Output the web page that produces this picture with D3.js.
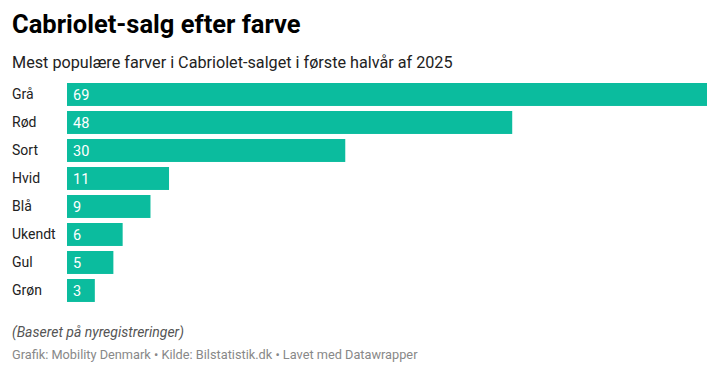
<!DOCTYPE html>
<html>
<head>
<meta charset="utf-8">
<script src="https://cdn.jsdelivr.net/npm/d3@7"></script>
<style>
  body { margin: 0; background: #fff; font-family: Roboto, "Noto Sans", sans-serif; }
</style>
</head>
<body>
<script>
// data
var colours = ["Grå", "Rød", "Sort", "Hvid", "Blå", "Ukendt", "Gul", "Grøn"];
var sales = [69, 48, 30, 11, 9, 6, 5, 3];

var w = 720, h = 374;
var barLeft = 67, barRight = 707;
var barTop = 83, pitch = 28, gap = 0.18;

var svg = d3.select("body").append("svg")
  .attr("width", w)
  .attr("height", h);

// title and subtitle
svg.append("text")
  .attr("x", 12).attr("y", 33)
  .style("font-size", "25.5px").style("font-weight", "700")
  .style("fill", "#000")
  .text("Cabriolet-salg efter farve");

svg.append("text")
  .attr("x", 12).attr("y", 68)
  .style("font-size", "16.2px")
  .style("fill", "#222")
  .text("Mest populære farver i Cabriolet-salget i første halvår af 2025");

// scales
var x = d3.scaleLinear()
  .domain([0, d3.max(sales)])
  .range([barLeft, barRight]);

var y = d3.scaleBand()
  .domain(colours)
  .range([barTop, barTop + pitch * (colours.length - gap)])
  .paddingInner(gap)
  .paddingOuter(0);

var rows = svg.selectAll(".row")
  .data(colours)
  .enter()
  .append("g")
  .attr("class", "row");

rows.append("rect")
  .attr("x", x(0))
  .attr("y", function(d) { return y(d); })
  .attr("width", function(d, i) { return x(sales[i]) - x(0); })
  .attr("height", y.bandwidth())
  .attr("fill", "#0bbc9e");

// category labels
rows.append("text")
  .attr("x", 12)
  .attr("y", function(d) { return y(d) + y.bandwidth() / 2; })
  .attr("dy", "0.35em")
  .style("font-size", "14px")
  .style("fill", "#222")
  .text(function(d) { return d; });

// value labels inside the bars
rows.append("text")
  .attr("x", x(0) + 6)
  .attr("y", function(d) { return y(d) + y.bandwidth() / 2; })
  .attr("dy", "0.35em")
  .style("font-size", "14.5px")
  .style("fill", "#fff")
  .text(function(d, i) { return sales[i]; });

// notes
svg.append("text")
  .attr("x", 12).attr("y", 337)
  .style("font-size", "14px").style("font-style", "italic")
  .style("fill", "#555")
  .text("(Baseret på nyregistreringer)");

svg.append("text")
  .attr("x", 12).attr("y", 359)
  .style("font-size", "12.75px")
  .style("fill", "#888")
  .text("Grafik: Mobility Denmark • Kilde: Bilstatistik.dk • Lavet med Datawrapper");
</script>
</body>
</html>
